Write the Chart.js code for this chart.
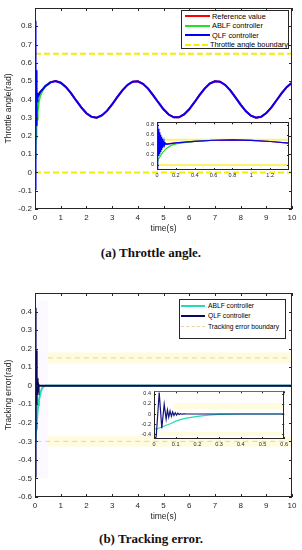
<!DOCTYPE html>
<html lang="en">
<head>
<meta charset="UTF-8">
<meta name="viewport" content="width=device-width, initial-scale=1.0">
<title>Throttle angle and tracking error</title>
<script src="https://cdn.jsdelivr.net/npm/chart.js"></script>
<style>
    body {
        margin: 0;
        width: 302px;
        height: 550px;
        position: relative;
        overflow: hidden;
        background: #fff;
        font-family: "Liberation Sans", Arial, sans-serif;
    }
    canvas { position: absolute; }
    .legend {
        position: absolute;
        box-sizing: border-box;
        background: #fff;
        border: 1px solid #262626;
        color: #000;
        z-index: 5;
    }
    .legend .row {
        display: flex;
        align-items: center;
        white-space: nowrap;
    }
    .legend .sw {
        display: inline-block;
        height: 0;
    }
    .caption {
        position: absolute;
        left: 0;
        width: 302px;
        text-align: center;
        font: bold 13px "Liberation Serif", "DejaVu Serif", serif;
        line-height: 15px;
        color: #111;
    }
</style>
</head>
<body>

<canvas id="angleChart" style="left:0;top:0" width="302" height="238"></canvas>
<canvas id="angleInset" style="left:127px;top:116px;z-index:2" width="166" height="64"></canvas>
<div class="legend" style="left:181px;top:10px;width:108px;height:39px;font-size:7.4px;padding-top:0.5px">
    <div class="row" style="height:9.5px"><span class="sw" style="width:25px;margin:0 2px 0 3px;border-top:2px solid #ff0000"></span>Reference value</div>
    <div class="row" style="height:9.5px"><span class="sw" style="width:25px;margin:0 2px 0 3px;border-top:2px solid #22e022"></span>ABLF controller</div>
    <div class="row" style="height:9.5px"><span class="sw" style="width:25px;margin:0 2px 0 3px;border-top:2px solid #0000ff"></span>QLF controller</div>
    <div class="row" style="height:9.5px"><span class="sw" style="width:25px;margin:0 2px 0 3px;border-top:2px dashed #f0f000"></span>Throttle angle boundary</div>
</div>
<div class="caption" style="top:245px">(a) Throttle angle.</div>

<canvas id="errorChart" style="left:0;top:285px" width="302" height="241"></canvas>
<canvas id="errorInset" style="left:124px;top:385px;z-index:2" width="166" height="64"></canvas>
<div class="legend" style="left:179px;top:299px;width:107px;height:40px;font-size:6.7px;padding-top:0.5px">
    <div class="row" style="height:10.3px"><span class="sw" style="width:24px;margin:0 3px 0 1px;border-top:2.5px solid #22ddb0"></span>ABLF controller</div>
    <div class="row" style="height:10.3px"><span class="sw" style="width:24px;margin:0 3px 0 1px;border-top:2px solid #0a0a5a"></span>QLF controller</div>
    <div class="row" style="height:10.3px"><span class="sw" style="width:24px;margin:0 3px 0 1px;border-top:1px dashed #e8d49a"></span>Tracking error boundary</div>
</div>
<div class="caption" style="top:531px">(b) Tracking error.</div>

<script>
    // ---- throttle angle (rad) ----
    const tAngle = [0, 0.005, 0.01, 0.015, 0.02, 0.025, 0.03, 0.035, 0.04, 0.045, 0.05, 0.055, 0.06, 0.065,
        0.07, 0.075, 0.08, 0.09, 0.1, 0.15, 0.2, 0.3,
        0.4, 0.6, 0.8, 1.0, 1.2, 1.4, 1.6, 1.8, 2.0, 2.2, 2.4, 2.6, 2.8, 3.0, 3.2, 3.4, 3.6, 3.8, 4.0,
        4.2, 4.4, 4.6, 4.8, 5.0, 5.2, 5.4, 5.6, 5.8, 6.0, 6.2, 6.4, 6.6, 6.8, 7.0, 7.2, 7.4, 7.6, 7.8,
        8.0, 8.2, 8.4, 8.6, 8.8, 9.0, 9.2, 9.4, 9.6, 9.8, 10.0];
    const refAngle = [0.4, 0.401, 0.402, 0.403, 0.404, 0.405, 0.406, 0.407, 0.408, 0.409, 0.41, 0.411, 0.412, 0.413,
        0.414, 0.415, 0.416, 0.418, 0.42, 0.43, 0.439, 0.456,
        0.472, 0.493, 0.500, 0.491, 0.468, 0.434, 0.394, 0.356, 0.324, 0.305, 0.300, 0.312, 0.337, 0.372, 0.412, 0.449, 0.479, 0.497, 0.499,
        0.485, 0.459, 0.422, 0.383, 0.346, 0.317, 0.302, 0.302, 0.318, 0.346, 0.383, 0.423, 0.459, 0.486, 0.499, 0.497, 0.479, 0.449, 0.411,
        0.371, 0.336, 0.311, 0.300, 0.305, 0.325, 0.356, 0.395, 0.434, 0.468, 0.491];
    const qlfAngle = [-0.09, 0.83, 0.12, 0.72, 0.18, 0.65, 0.22, 0.6, 0.26, 0.56, 0.3, 0.52, 0.34, 0.48,
        0.37, 0.46, 0.39, 0.435, 0.41, 0.425, 0.44, 0.455,
        0.472, 0.493, 0.500, 0.491, 0.468, 0.434, 0.394, 0.356, 0.324, 0.305, 0.300, 0.312, 0.337, 0.372, 0.412, 0.449, 0.479, 0.497, 0.499,
        0.485, 0.459, 0.422, 0.383, 0.346, 0.317, 0.302, 0.302, 0.318, 0.346, 0.383, 0.423, 0.459, 0.486, 0.499, 0.497, 0.479, 0.449, 0.411,
        0.371, 0.336, 0.311, 0.300, 0.305, 0.325, 0.356, 0.395, 0.434, 0.468, 0.491];
    const tAblf = [0, 0.01, 0.02, 0.03, 0.04, 0.05, 0.06, 0.08, 0.1, 0.15, 0.2, 0.3, 0.4, 0.6];
    const ablfAngle = [0.08, 0.11, 0.13, 0.16, 0.19, 0.22, 0.25, 0.29, 0.33, 0.39, 0.42, 0.45, 0.472, 0.493];
    const angleBoundTime = [0, 10];
    const angleUpper = [0.65, 0.65];
    const angleLower = [0, 0];
    const angleInsetBoundTime = [0, 1.4];
    const angleInsetUpper = [0.5, 0.5];
    const angleInsetLower = [0, 0];

    // ---- tracking error (rad) ----
    const tError = [0, 0.01, 0.024, 0.036, 0.047, 0.056, 0.062, 0.068, 0.074, 0.08, 0.086, 0.092, 0.098,
        0.104, 0.11, 0.116, 0.122, 0.13, 0.14, 0.15, 0.3, 10];
    const qlfError = [-0.49, -0.45, 0.42, -0.28, 0.19, -0.1, 0.08, -0.06, 0.06, -0.045, 0.04, -0.03, 0.025,
        -0.02, 0.015, -0.01, 0.008, -0.004, 0.002, 0, 0, 0];
    const tAblfError = [0, 0.02, 0.035, 0.05, 0.075, 0.1, 0.125, 0.15, 0.2, 0.25, 0.3, 0.4, 10];
    const ablfError = [-0.3, -0.28, -0.26, -0.23, -0.19, -0.14, -0.105, -0.08, -0.045, -0.022, -0.008, 0, 0];
    const errorUpperTime = [0.5, 10];
    const errorLowerTime = [0.05, 10];
    const errorBandTime = [0.5, 10];
    const errorUpper = [0.15, 0.15];
    const errorLower = [-0.3, -0.3];
    const shadeTime = [0, 0.5];
    const shadeTop = [0.46, 0.46];
    const errorInsetUpperTime = [0.09, 0.6];
    const errorInsetLowerTime = [0.03, 0.6];
    const errorInsetUpper = [0.155, 0.155];
    const errorInsetLower = [-0.39, -0.39];

    // ---- tick labels ----
    const timeTicks = [0, 1, 2, 3, 4, 5, 6, 7, 8, 9, 10];
    const angleTicks = [-0.2, -0.1, 0, 0.1, 0.2, 0.3, 0.4, 0.5, 0.6, 0.7, 0.8];
    const errorTicks = [-0.6, -0.5, -0.4, -0.3, -0.2, -0.1, 0, 0.1, 0.2, 0.3, 0.4];
    const angleInsetXTicks = [0, 0.2, 0.4, 0.6, 0.8, 1, 1.2];
    const angleInsetYTicks = [0, 0.2, 0.4, 0.6, 0.8];
    const errorInsetXTicks = [0, 0.1, 0.2, 0.3, 0.4, 0.5, 0.6];
    const errorInsetYTicks = [-0.4, -0.2, 0, 0.2, 0.4];

    const FONT = '"Liberation Sans", Arial, sans-serif';
    const INK = '#262626';

    function pts(xs, ys) {
        return xs.map((x, i) => ({ x: x, y: ys[i] }));
    }

    function fmt(v) {
        return String(Math.round(v * 100) / 100);
    }

    // white plot area, box and inward ticks like matlab
    const boxTicks = {
        id: 'boxTicks',
        beforeDraw(chart) {
            const a = chart.chartArea, ctx = chart.ctx;
            ctx.save();
            ctx.fillStyle = '#fff';
            ctx.fillRect(a.left, a.top, a.right - a.left, a.bottom - a.top);
            ctx.restore();
        },
        afterDraw(chart, args, opts) {
            const a = chart.chartArea, ctx = chart.ctx, len = opts.len || 3;
            const xs = chart.scales.x, ys = chart.scales.y;
            ctx.save();
            ctx.strokeStyle = INK;
            ctx.lineWidth = 1;
            ctx.beginPath();
            xs.ticks.forEach(t => {
                const p = Math.round(xs.getPixelForValue(t.value)) + 0.5;
                ctx.moveTo(p, a.bottom); ctx.lineTo(p, a.bottom - len);
                ctx.moveTo(p, a.top); ctx.lineTo(p, a.top + len);
            });
            ys.ticks.forEach(t => {
                const p = Math.round(ys.getPixelForValue(t.value)) + 0.5;
                ctx.moveTo(a.left, p); ctx.lineTo(a.left + len, p);
                ctx.moveTo(a.right, p); ctx.lineTo(a.right - len, p);
            });
            ctx.stroke();
            const l = Math.round(a.left) + 0.5, t = Math.round(a.top) + 0.5;
            const r = Math.round(a.right) - 0.5, b = Math.round(a.bottom) - 0.5;
            ctx.strokeRect(l, t, r - l, b - t);
            if (opts.topColor) {
                ctx.strokeStyle = opts.topColor;
                ctx.beginPath(); ctx.moveTo(l, t); ctx.lineTo(r, t); ctx.stroke();
            }
            ctx.restore();
        }
    };

    function makeScales(o) {
        return {
            x: {
                type: 'linear', min: o.xMin, max: o.xMax,
                afterBuildTicks: s => { s.ticks = o.xTicks.map(v => ({ value: v })); },
                afterFit: s => { s.height = o.xH; },
                grid: { display: false, drawTicks: false },
                border: { display: false },
                ticks: { font: { family: FONT, size: o.fs }, color: INK, padding: o.xPad, maxRotation: 0, autoSkip: false, callback: fmt },
                title: o.xTitle ? { display: true, text: o.xTitle, color: INK, font: { family: FONT, size: 8.5 }, padding: { top: 0, bottom: 4 } } : { display: false }
            },
            y: {
                type: 'linear', min: o.yMin, max: o.yMax,
                afterBuildTicks: s => { s.ticks = o.yTicks.map(v => ({ value: v })); },
                afterFit: s => { s.width = o.yW; },
                grid: { display: false, drawTicks: false },
                border: { display: false },
                ticks: { font: { family: FONT, size: o.fs }, color: INK, padding: 3, autoSkip: false, callback: fmt },
                title: o.yTitle ? { display: true, text: o.yTitle, color: INK, font: { family: FONT, size: 8.5 }, padding: { top: 4, bottom: 0 } } : { display: false }
            }
        };
    }

    function line(data, color, width, extra) {
        return Object.assign({
            data: data, borderColor: color, borderWidth: width, pointRadius: 0,
            tension: 0, fill: false, backgroundColor: color
        }, extra || {});
    }

    function makeChart(id, datasets, scaleOpts, padding, boxOpts) {
        return new Chart(document.getElementById(id), {
            type: 'line',
            data: { datasets: datasets },
            options: {
                responsive: false,
                animation: false,
                layout: { padding: padding },
                plugins: { legend: { display: false }, tooltip: { enabled: false }, boxTicks: boxOpts },
                scales: makeScales(scaleOpts)
            },
            plugins: [boxTicks]
        });
    }

    // first dataset is drawn on top
    const angleSets = (w) => [
        line(pts(tAngle, qlfAngle), '#0000ff', w),
        line(pts(tAblf, ablfAngle), '#22e022', w),
        line(pts(tAngle, refAngle), '#ff0000', w)
    ];

    makeChart('angleChart', [
        ...angleSets(2),
        line(pts(angleBoundTime, angleUpper), '#f0f000', 2, { borderDash: [6, 3] }),
        line(pts(angleBoundTime, angleLower), '#f0f000', 2, { borderDash: [6, 3] })
    ], {
        xMin: 0, xMax: 10, yMin: -0.2, yMax: 0.9, xTicks: timeTicks, yTicks: angleTicks,
        fs: 8, xH: 29, yW: 35, xPad: 4, xTitle: 'time(s)', yTitle: 'Throttle angle(rad)'
    }, { left: 0, right: 10, top: 8, bottom: 0 }, { len: 3 });

    makeChart('angleInset', [
        ...angleSets(1.2),
        line(pts(angleInsetBoundTime, angleInsetUpper), '#f6f66a', 2),
        line(pts(angleInsetBoundTime, angleInsetLower), '#f6f66a', 2)
    ], {
        xMin: 0, xMax: 1.4, yMin: -0.1, yMax: 0.85, xTicks: angleInsetXTicks, yTicks: angleInsetYTicks,
        fs: 5.5, xH: 10, yW: 30, xPad: 2
    }, { left: 0, right: 4, top: 4, bottom: 0 }, { len: 2 });

    makeChart('errorChart', [
        line(pts(tError, qlfError), '#0a0a5a', 2),
        line(pts(tAblfError, ablfError), '#22ddb0', 2),
        line(pts(errorUpperTime, errorUpper), '#e8d49a', 1, { borderDash: [5, 4] }),
        line(pts(errorLowerTime, errorLower), '#e8d49a', 1, { borderDash: [5, 4] }),
        line(pts(errorBandTime, errorUpper), '#fffbde', 11),
        line(pts(errorBandTime, errorLower), '#fffbde', 11),
        line(pts(shadeTime, shadeTop), 'rgba(0,0,0,0)', 0, { fill: { value: -0.5 }, backgroundColor: 'rgba(240,232,255,0.25)' })
    ], {
        xMin: 0, xMax: 10, yMin: -0.6, yMax: 0.5, xTicks: timeTicks, yTicks: errorTicks,
        fs: 8, xH: 29, yW: 35, xPad: 4, xTitle: 'time(s)', yTitle: 'Tracking error(rad)'
    }, { left: 0, right: 10, top: 8, bottom: 0 }, { len: 3 });

    makeChart('errorInset', [
        line(pts(tError, qlfError), '#14147a', 1.2),
        line(pts(tAblfError, ablfError), '#22ddb0', 1.2),
        line(pts(errorInsetUpperTime, errorInsetUpper), '#fffbde', 6),
        line(pts(errorInsetLowerTime, errorInsetLower), '#fffbde', 4)
    ], {
        xMin: 0, xMax: 0.6, yMin: -0.49, yMax: 0.445, xTicks: errorInsetXTicks, yTicks: errorInsetYTicks,
        fs: 5.5, xH: 10, yW: 30, xPad: 2
    }, { left: 0, right: 4, top: 4, bottom: 0 }, { len: 2, topColor: '#5a5ae0' });
</script>

</body>
</html>
